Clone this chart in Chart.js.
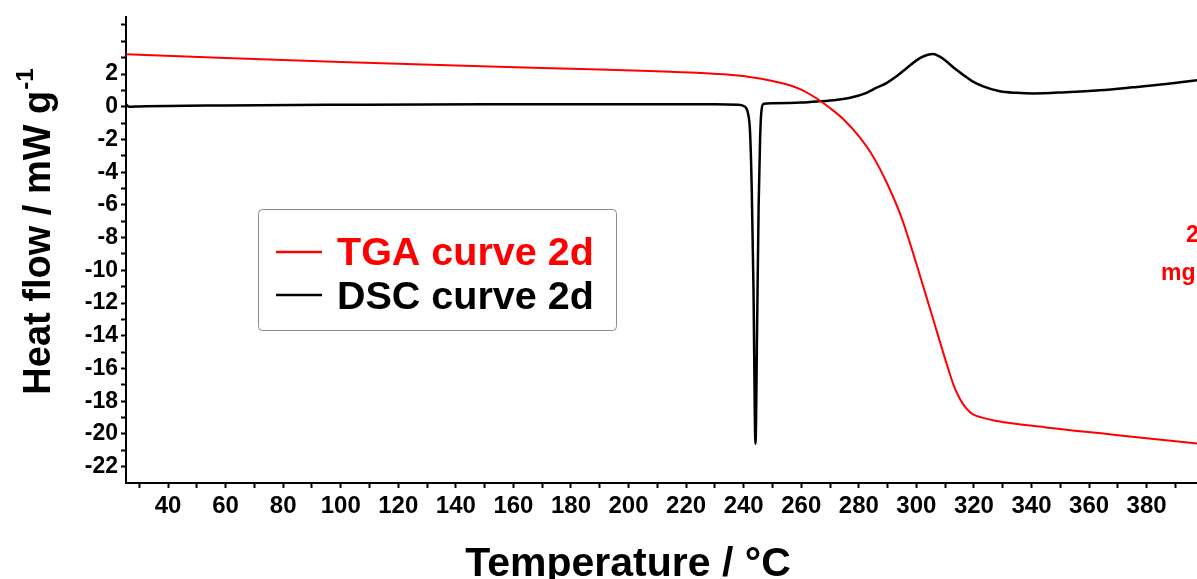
<!DOCTYPE html>
<html>
<head>
<meta charset="utf-8">
<title>TGA / DSC curve 2d</title>
<script src="https://cdn.jsdelivr.net/npm/chart.js@4.4.0/dist/chart.umd.min.js"></script>
<style>
    html, body { margin: 0; padding: 0; background: #fff; overflow: hidden; }
    #wrap { width: 1197px; height: 579px; }
</style>
</head>
<body>
<div id="wrap"><canvas id="thermoChart" width="1197" height="579"></canvas></div>
<script>
// TGA curve (red) in left-axis units
const tgaTemps = [25.4, 60, 100, 140, 180, 210, 225, 235, 242, 250, 256, 260, 265, 270, 275, 280, 285,
    290, 295, 300, 305, 310.5, 312.8, 315.1, 317.4, 319.7, 323.2, 327, 335, 345, 355, 365, 375, 385, 397.5];
const tgaValues = [3.21, 2.98, 2.74, 2.52, 2.32, 2.17, 2.06, 1.95, 1.82, 1.58, 1.32, 1.05, 0.55, -0.08, -0.82, -1.8, -3.05,
    -4.75, -6.85, -9.6, -12.5, -15.7, -16.95, -17.85, -18.45, -18.8, -19.02, -19.18, -19.4, -19.6, -19.8, -19.98, -20.17, -20.35, -20.58];

// DSC curve (black), heat flow in mW/g
const dscTemps = [25.4, 26.5, 30, 60, 100, 150, 200, 230, 238, 240, 241.5, 242.2, 242.8, 243.4, 244.1, 244.7, 245.2, 245.7, 246.2,
    247, 250, 260, 266, 272, 277, 282.7, 286, 289.6, 293, 296.6, 301.2, 304, 305.8, 308, 310.5, 313, 316.2, 319.5, 323.2,
    329, 334.8, 340.5, 352, 363.7, 375.2, 386.8, 397.5];
const dscValues = [0.15, 0.0, 0.02, 0.08, 0.12, 0.15, 0.15, 0.15, 0.13, 0.05, -0.4, -1.5, -5, -11, -20.6, -13, -6, -2, -0.2,
    0.18, 0.22, 0.26, 0.33, 0.42, 0.55, 0.85, 1.15, 1.45, 1.85, 2.36, 2.97, 3.18, 3.22, 3.08, 2.77, 2.38, 1.96, 1.55, 1.25,
    0.95, 0.85, 0.81, 0.89, 1.01, 1.19, 1.39, 1.62];

const seriesLabels = ['TGA curve 2d', 'DSC curve 2d'];

// ticks
const xLabelledTicks = [40, 60, 80, 100, 120, 140, 160, 180, 200, 220, 240, 260, 280, 300, 320, 340, 360, 380];
const xMinorTicks = [30, 50, 70, 90, 110, 130, 150, 170, 190, 210, 230, 250, 270, 290, 310, 330, 350, 370, 390];
const yLabelledTicks = [2, 0, -2, -4, -6, -8, -10, -12, -14, -16, -18, -20, -22];
const yMinorTicks = [5, 4, 3, 1, -1, -3, -5, -7, -9, -11, -13, -15, -17, -19, -21];

const FONT = '"Liberation Sans", Arial, Helvetica, sans-serif';
const RED = '#ff0000';

function toPoints(xs, ys) {
    return xs.map((x, i) => ({ x: x, y: ys[i] }));
}

// titles, legend box and the clipped red note are drawn by hand
const annotationsPlugin = {
    id: 'annotations',
    afterDraw(chart) {
        const ctx = chart.ctx;
        ctx.save();

        // y axis title with superscript
        ctx.translate(50, 232);
        ctx.rotate(-Math.PI / 2);
        ctx.fillStyle = '#000';
        ctx.textBaseline = 'alphabetic';
        ctx.font = 'bold 38px ' + FONT;
        const main = 'Heat flow / mW g';
        const wMain = ctx.measureText(main).width;
        ctx.font = 'bold 24px ' + FONT;
        const wSup = ctx.measureText('-1').width;
        const start = -(wMain + wSup) / 2;
        ctx.font = 'bold 38px ' + FONT;
        ctx.fillText(main, start, 0);
        ctx.font = 'bold 24px ' + FONT;
        ctx.fillText('-1', start + wMain + 1, -17);
        ctx.restore();

        // x axis title
        ctx.save();
        ctx.fillStyle = '#000';
        ctx.font = 'bold 41px ' + FONT;
        ctx.textAlign = 'center';
        ctx.textBaseline = 'alphabetic';
        ctx.fillText('Temperature / °C', 628, 576);

        // legend box
        ctx.strokeStyle = '#8c8c8c';
        ctx.lineWidth = 1;
        ctx.beginPath();
        ctx.roundRect(258.5, 209.5, 358, 121, 4);
        ctx.stroke();

        const rows = [
            { label: seriesLabels[0], color: RED, y: 252, base: 265 },
            { label: seriesLabels[1], color: '#000', y: 295, base: 309 }
        ];
        ctx.textAlign = 'left';
        ctx.font = 'bold 39.5px ' + FONT;
        rows.forEach(r => {
            ctx.strokeStyle = r.color;
            ctx.lineWidth = 2.5;
            ctx.beginPath();
            ctx.moveTo(276, r.y);
            ctx.lineTo(322, r.y);
            ctx.stroke();
            ctx.fillStyle = r.color;
            ctx.fillText(r.label, 337, r.base);
        });

        // red note cut by the right edge
        ctx.fillStyle = RED;
        ctx.font = 'bold 23px ' + FONT;
        ctx.fillText('2', 1186, 242);
        ctx.fillText('mg', 1161, 280);
        ctx.restore();
    }
};

const ctx = document.getElementById('thermoChart').getContext('2d');

const thermoChart = new Chart(ctx, {
    type: 'line',
    data: {
        datasets: [
            {
                label: seriesLabels[0],
                data: toPoints(tgaTemps, tgaValues),
                borderColor: RED,
                borderWidth: 2,
                pointRadius: 0,
                cubicInterpolationMode: 'monotone',
                fill: false
            },
            {
                label: seriesLabels[1],
                data: toPoints(dscTemps, dscValues),
                borderColor: '#000',
                borderWidth: 2.5,
                pointRadius: 0,
                cubicInterpolationMode: 'monotone',
                fill: false
            }
        ]
    },
    options: {
        responsive: false,
        animation: false,
        events: [],
        layout: { padding: { top: 13, right: 0, bottom: 0, left: 0 } },
        plugins: {
            legend: { display: false },
            tooltip: { enabled: false }
        },
        scales: {
            x: {
                type: 'linear',
                min: 25.4,
                max: 397.5,
                border: { color: '#000', width: 2 },
                grid: { drawOnChartArea: false, tickLength: 5, tickWidth: 2, tickColor: '#000' },
                afterBuildTicks: scale => {
                    scale.ticks = xLabelledTicks.concat(xMinorTicks)
                        .sort((a, b) => a - b)
                        .map(v => ({ value: v }));
                },
                afterFit: scale => { scale.height = 96; },
                ticks: {
                    autoSkip: false,
                    maxRotation: 0,
                    padding: 4,
                    color: '#000',
                    font: { family: FONT, size: 24, weight: 'bold' },
                    callback: value => xLabelledTicks.includes(value) ? String(value) : ''
                }
            },
            y: {
                type: 'linear',
                min: -23,
                max: 5.5,
                border: { color: '#000', width: 2 },
                grid: { drawOnChartArea: false, tickLength: 5, tickWidth: 2, tickColor: '#000' },
                afterBuildTicks: scale => {
                    scale.ticks = yLabelledTicks.concat(yMinorTicks)
                        .sort((a, b) => a - b)
                        .map(v => ({ value: v }));
                },
                afterFit: scale => { scale.width = 126; },
                ticks: {
                    autoSkip: false,
                    padding: 3,
                    color: '#000',
                    font: { family: FONT, size: 23, weight: 'bold' },
                    callback: value => yLabelledTicks.includes(value) ? String(value) : ''
                }
            }
        }
    },
    plugins: [annotationsPlugin]
});
</script>
</body>
</html>
